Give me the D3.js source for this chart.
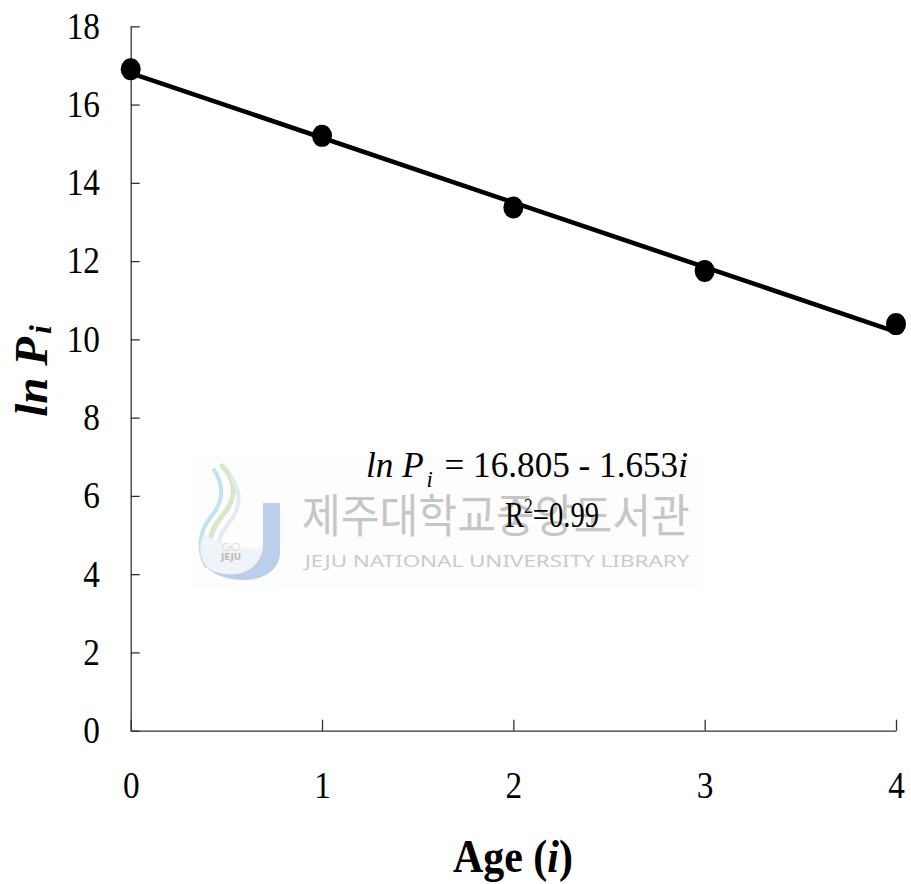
<!DOCTYPE html>
<html>
<head>
<meta charset="utf-8">
<script src="https://cdn.jsdelivr.net/npm/d3@7"></script>
<style>
  html, body { margin: 0; padding: 0; background: #fff; }
  svg { display: block; }
  text { font-family: "Liberation Serif", "Times New Roman", serif; fill: #000; }
</style>
</head>
<body>
<svg id="chart" width="911" height="884"></svg>
<script>
// ---- data ----
const ages = [0, 1, 2, 3, 4];
const lnP = [16.90, 15.20, 13.37, 11.75, 10.39];
const xTicks = [0, 1, 2, 3, 4];
const yTicks = [0, 2, 4, 6, 8, 10, 12, 14, 16, 18];
const fitIntercept = 16.805;
const fitSlope = -1.653;
const r2Label = "0.99";
const watermarkKo = "제주대학교중앙도서관";
const watermarkEn = "JEJU NATIONAL UNIVERSITY LIBRARY";

const svg = d3.select("#chart");

const x = d3.scaleLinear().domain([0, 4]).range([130.7, 896]);
const y = d3.scaleLinear().domain([0, 18]).range([730.7, 26.3]);

// helper to fit a (rich) text element to a given width, left edge and baseline
function fitText(sel, x0, baseline, targetW) {
  const bb = sel.node().getBBox();
  const s = targetW / bb.width;
  sel.attr("transform", `translate(${x0},${baseline}) scale(${s},1) translate(${-bb.x},0)`);
}

// ---- watermark ----
const wm = svg.append("g").attr("class", "watermark");
wm.append("rect").attr("x", 190).attr("y", 456).attr("width", 512).attr("height", 132).attr("fill", "#fdfdfd");
// logo swooshes
wm.append("path").attr("d", "M222,466 C238,482 236,500 222,516 C208,532 206,552 214,566")
  .attr("fill", "none").attr("stroke", "#d6e8c8").attr("stroke-width", 5).attr("stroke-linecap", "round");
wm.append("path").attr("d", "M214,470 C226,488 222,504 210,518 C198,534 198,552 206,566")
  .attr("fill", "none").attr("stroke", "#c2e1f1").attr("stroke-width", 4).attr("stroke-linecap", "round");
wm.append("path").attr("d", "M232,478 C242,494 240,510 228,524 C218,536 216,548 220,560")
  .attr("fill", "none").attr("stroke", "#e3eaf0").attr("stroke-width", 4).attr("stroke-linecap", "round");
// J shape
wm.append("path")
  .attr("d", "M263,503 L280,503 L280,552 C280,570 264,580 244,580 C226,580 212,574 206,566 C220,572 238,572 250,566 C260,560 263,552 263,544 Z")
  .attr("fill", "#bccfea");
wm.append("path")
  .attr("d", "M206,566 C200,556 198,546 204,534 C214,540 226,546 240,548 C252,550 262,548 263,544 C263,560 252,572 236,574 C222,575 212,572 206,566 Z")
  .attr("fill", "#f0f3f7");
wm.append("text").attr("x", 231).attr("y", 560).attr("text-anchor", "middle")
  .style("font-family", "'DejaVu Sans', sans-serif").style("font-size", "9px").style("font-weight", "bold")
  .style("fill", "#bdbdbd").text("JEJU");
wm.append("text").attr("x", 231).attr("y", 549).attr("text-anchor", "middle")
  .style("font-family", "'DejaVu Sans', sans-serif").style("font-size", "8px")
  .style("fill", "#c8c8c8").text("◯◯");
const ko = wm.append("text")
  .style("font-family", "'Noto Sans CJK KR', sans-serif").style("font-size", "46px")
  .style("fill", "#c6c6c6").text(watermarkKo);
fitText(ko, 302, 532, 388);
const en = wm.append("text")
  .style("font-family", "'Noto Sans', sans-serif").style("font-size", "17px")
  .style("fill", "#cbcbcb").text(watermarkEn);
fitText(en, 302, 567, 388);

// ---- axes ----
const yAxis = d3.axisLeft(y).tickValues(yTicks).tickFormat(d3.format("d"))
  .tickSizeInner(-9).tickSizeOuter(0).tickPadding(30.7 / 0.9);
const gy = svg.append("g").attr("transform", "translate(130.7,0)").call(yAxis);
const xAxis = d3.axisBottom(x).tickValues(xTicks).tickFormat(d3.format("d"))
  .tickSizeInner(-11).tickSizeOuter(0).tickPadding(40.7);
const gx = svg.append("g").attr("transform", "translate(0,730.7)").call(xAxis);

[gx, gy].forEach(g => {
  g.attr("font-family", null).attr("font-size", null);
  g.selectAll("path.domain").attr("stroke", "#333").attr("stroke-width", 1.3);
  g.selectAll(".tick line").attr("stroke", "#333").attr("stroke-width", 1.3);
  g.selectAll(".tick text")
    .style("font-family", "'Liberation Serif', 'Times New Roman', serif")
    .style("font-size", "37px").attr("fill", "#000")
    .attr("transform", "scale(0.9,1)");
});

// ---- regression line ----
const line = d3.line().x(d => x(d)).y(d => y(fitIntercept + fitSlope * d));
svg.append("path").datum([ages[0], ages[ages.length - 1]])
  .attr("d", line).attr("fill", "none").attr("stroke", "#000").attr("stroke-width", 4.6);

// ---- points ----
svg.append("g").selectAll("ellipse").data(ages.map((a, i) => ({ a, v: lnP[i] }))).join("ellipse")
  .attr("cx", d => x(d.a)).attr("cy", d => y(d.v)).attr("rx", 10).attr("ry", 11).attr("fill", "#000");

// ---- equation ----
const eq = svg.append("text").style("font-size", "36px");
eq.append("tspan").style("font-style", "italic").text("ln P");
eq.append("tspan").style("font-style", "italic").style("font-size", "23px").attr("dx", 3).attr("dy", 10).text("i");
eq.append("tspan").attr("dx", 12).attr("dy", -10).text("= " + fitIntercept.toFixed(3) + " - " + Math.abs(fitSlope).toFixed(3));
eq.append("tspan").style("font-style", "italic").text("i");
fitText(eq, 366, 477, 322);

const r2 = svg.append("text").style("font-size", "36px");
r2.append("tspan").text("R");
r2.append("tspan").style("font-size", "22px").attr("dy", -14).text("2");
r2.append("tspan").attr("dy", 14).text("=" + r2Label);
fitText(r2, 505, 527, 94);

// ---- axis titles ----
const yl = svg.append("text").attr("text-anchor", "middle")
  .attr("transform", "translate(47,371) rotate(-90)")
  .style("font-size", "47px").style("font-weight", "bold").style("font-style", "italic");
yl.append("tspan").text("ln P");
yl.append("tspan").style("font-size", "32px").attr("dx", 3).attr("dy", 4).text("i");

const xl = svg.append("text").style("font-size", "47px").style("font-weight", "bold");
xl.append("tspan").text("Age (");
xl.append("tspan").style("font-style", "italic").text("i");
xl.append("tspan").text(")");
fitText(xl, 453, 872, 120);
</script>
</body>
</html>
